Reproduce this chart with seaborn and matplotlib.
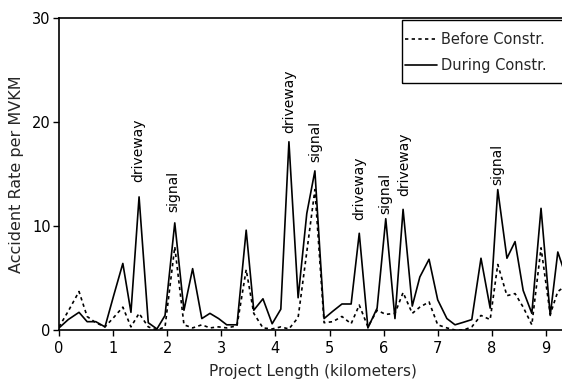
import matplotlib
matplotlib.use("Agg")
import matplotlib.pyplot as plt
import matplotlib.patches as mpatches
import seaborn as sns
import pandas as pd

# ---- data ----
during_km = [0.00, 0.17, 0.37, 0.52, 0.68, 0.85, 1.01, 1.18, 1.33, 1.48, 1.65, 1.81, 1.96,
             2.14, 2.31, 2.47, 2.64, 2.79, 2.95, 3.10, 3.29, 3.46, 3.60, 3.77, 3.94, 4.10,
             4.25, 4.42, 4.58, 4.73, 4.90, 5.06, 5.23, 5.40, 5.55, 5.71, 5.88, 6.04, 6.21,
             6.36, 6.53, 6.67, 6.84, 7.00, 7.17, 7.32, 7.48, 7.63, 7.80, 7.97, 8.11, 8.28,
             8.43, 8.58, 8.74, 8.91, 9.08, 9.22, 9.38]
during_rate = [0.2, 1.0, 1.7, 0.8, 0.8, 0.3, 3.3, 6.4, 1.7, 12.8, 0.7, 0.1, 1.4,
               10.3, 1.9, 5.9, 1.1, 1.6, 1.1, 0.5, 0.5, 9.6, 1.9, 3.0, 0.6, 2.0,
               18.1, 3.1, 11.2, 15.3, 1.1, 1.8, 2.5, 2.5, 9.3, 0.2, 2.1, 10.7, 1.1,
               11.6, 2.3, 5.1, 6.8, 2.9, 1.1, 0.5, 0.75, 1.0, 6.9, 2.1, 13.5, 6.9,
               8.5, 3.8, 1.6, 11.7, 1.4, 7.5, 5.0]

before_km = during_km
before_rate = [0.3, 1.8, 3.7, 1.3, 0.7, 0.3, 1.2, 2.2, 0.3, 1.6, 0.3, 0.0, 0.3,
               8.0, 0.5, 0.2, 0.5, 0.2, 0.3, 0.2, 0.4, 5.8, 1.6, 0.2, 0.1, 0.3,
               0.1, 1.2, 7.5, 13.5, 0.7, 0.8, 1.3, 0.6, 2.4, 0.3, 1.9, 1.5, 1.6,
               3.6, 1.6, 2.2, 2.7, 0.5, 0.2, 0.0, 0.0, 0.3, 1.4, 1.0, 6.3, 3.3,
               3.5, 2.2, 0.5, 7.9, 1.5, 3.7, 4.3]

label_text = ["driveway", "signal", "driveway", "signal", "driveway", "signal", "driveway", "signal"]
label_km = [1.46, 2.11, 4.25, 4.73, 5.55, 6.03, 6.38, 8.11]
label_rate = [14.2, 11.3, 18.9, 16.2, 10.6, 11.2, 12.9, 13.9]

x_ticks = [0, 1, 2, 3, 4, 5, 6, 7, 8, 9]
y_ticks = [0, 10, 20, 30]

# ---- plot ----
sns.set_style("ticks")
plt.rcParams["font.family"] = ["DejaVu Sans"]

W, H = 562, 380
fig = plt.figure(figsize=(W / 100, H / 100), dpi=100)
ax = fig.add_axes([59 / W, 50 / H, (566 - 59) / W, 312 / H])

df_before = pd.DataFrame({"km": before_km, "rate": before_rate})
df_during = pd.DataFrame({"km": during_km, "rate": during_rate})

sns.lineplot(data=df_before, x="km", y="rate", ax=ax, color="black", lw=1.2,
             linestyle=(0, (2, 2)), sort=False, label="Before Constr.")
sns.lineplot(data=df_during, x="km", y="rate", ax=ax, color="black", lw=1.2,
             linestyle="-", sort=False, label="During Constr.")

for t, xk, yr in zip(label_text, label_km, label_rate):
    ax.text(xk, yr, t, rotation=90, ha="center", va="bottom", fontsize=10, color="black")

ax.set_xlim(0, (566 - 59) / 54.1)
ax.set_ylim(0, 30)
ax.set_xticks(x_ticks)
ax.set_yticks(y_ticks)
ax.tick_params(axis="both", direction="out", length=4, width=1, labelsize=10.5,
               colors="black")
ax.tick_params(axis="x", pad=4)
ax.tick_params(axis="y", pad=2)
for s in ax.spines.values():
    s.set_linewidth(1.2)
    s.set_color("black")

ax.set_xlabel("Project Length (kilometers)", fontsize=11, labelpad=6)
ax.set_ylabel("Accident Rate per MVKM", fontsize=11.5, labelpad=6)

# legend entries without their own frame; box drawn separately to match the reference
leg = ax.legend(loc="upper left", bbox_to_anchor=(405 / W, (H - 32) / H),
                bbox_transform=fig.transFigure, frameon=False,
                fontsize=10.5, handlelength=2.2, handletextpad=0.3,
                borderpad=0.0, labelspacing=0.75, borderaxespad=0.0)
box = mpatches.Rectangle((402 / W, (H - 83) / H), (570 - 402) / W, 63 / H,
                         transform=fig.transFigure, fill=False, edgecolor="black",
                         linewidth=1.0, zorder=5)
fig.add_artist(box)

fig.savefig("out.png", dpi=100)
